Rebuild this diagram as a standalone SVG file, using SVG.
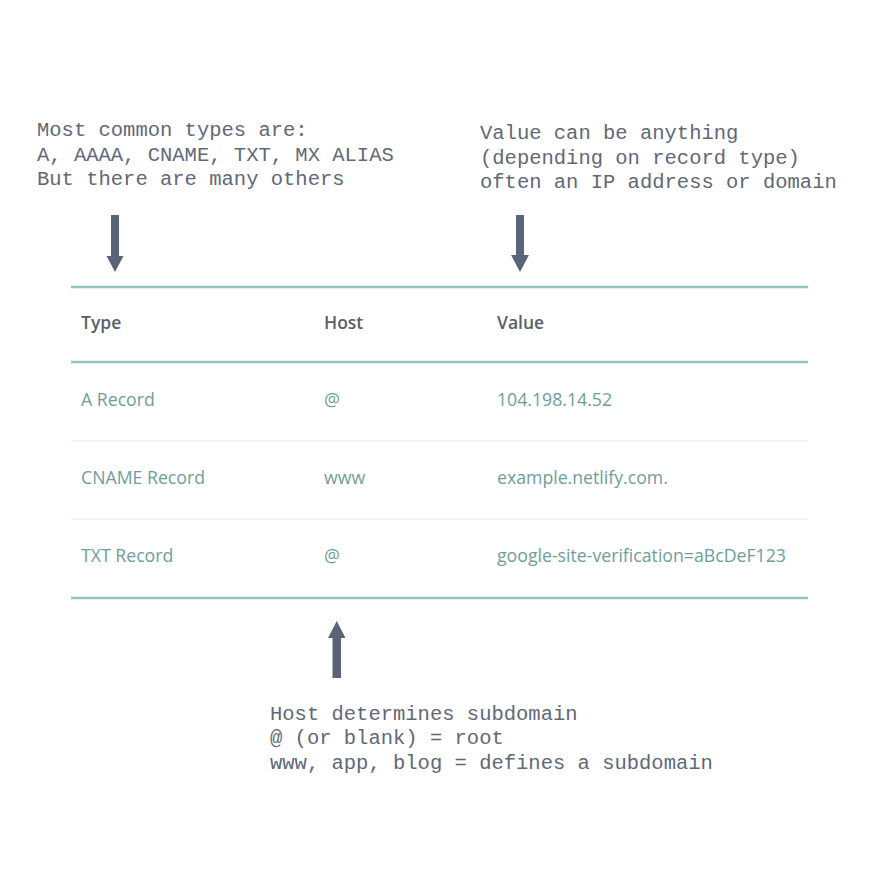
<svg xmlns="http://www.w3.org/2000/svg" width="880" height="880" viewBox="0 0 880 880">
<style>
.note{font-family:"Liberation Mono","Courier New",monospace;font-size:20.5px;fill:#616878}
.hd{font-family:"Open Sans","Noto Sans",sans-serif;font-size:17.5px;font-weight:600;fill:#5a5f69}
.cell{font-family:"Open Sans","Noto Sans",sans-serif;font-size:17.7px;fill:#6e9e9b}
.teal{stroke:#92c5c2;stroke-width:2.5}
.grey{stroke:#eeeeee;stroke-width:1.5}
.arrow{fill:#5a6478}
</style>
<rect width="880" height="880" fill="#ffffff"/>
<g id="note-types">
<text class="note" x="37" y="136">Most common types are:</text>
<text class="note" x="37" y="160.5">A, AAAA, CNAME, TXT, MX ALIAS</text>
<text class="note" x="37" y="185">But there are many others</text>
</g>
<g id="note-value">
<text class="note" x="480" y="139">Value can be anything</text>
<text class="note" x="480" y="163.5">(depending on record type)</text>
<text class="note" x="480" y="188">often an IP address or domain</text>
</g>
<g id="note-host">
<text class="note" x="270" y="719.5">Host determines subdomain</text>
<text class="note" x="270" y="744">@ (or blank) = root</text>
<text class="note" x="270" y="768.5">www, app, blog = defines a subdomain</text>
</g>
<g id="table">
<line class="teal" x1="71" y1="287" x2="808" y2="287"/>
<line class="teal" x1="71" y1="362" x2="808" y2="362"/>
<line class="grey" x1="71" y1="441" x2="808" y2="441"/>
<line class="grey" x1="71" y1="519" x2="808" y2="519"/>
<line class="teal" x1="71" y1="598" x2="808" y2="598"/>
<text class="hd" x="81" y="329">Type</text>
<text class="hd" x="324" y="329">Host</text>
<text class="hd" x="497" y="329">Value</text>
<text class="cell" x="81" y="405.5">A Record</text>
<text class="cell" x="324" y="405.5">@</text>
<text class="cell" x="497" y="405.5">104.198.14.52</text>
<text class="cell" x="81" y="483.5">CNAME Record</text>
<text class="cell" x="324" y="483.5">www</text>
<text class="cell" x="497" y="483.5">example.netlify.com.</text>
<text class="cell" x="81" y="561.5">TXT Record</text>
<text class="cell" x="324" y="561.5">@</text>
<text class="cell" x="497" y="561.5">google-site-verification=aBcDeF123</text>
</g>
<g id="connectors">
<path class="arrow" d="M111,215 H119 V256 H123.5 L115,272 L106.5,256 H111 Z"/>
<path class="arrow" d="M516,215 H524 V255 H529 L520,272 L511,255 H516 Z"/>
<path class="arrow" d="M332.5,678 H341 V638 H345.5 L336.75,621 L328,638 H332.5 Z"/>
</g>
</svg>
